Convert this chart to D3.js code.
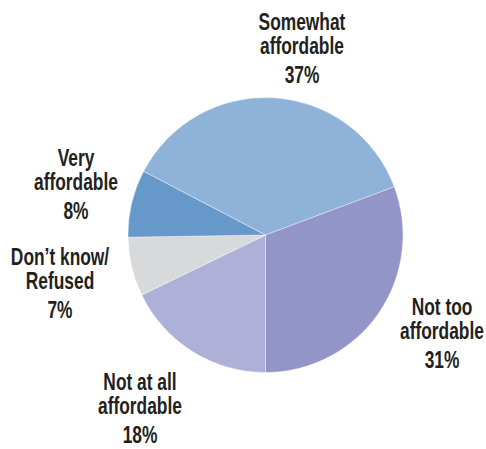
<!DOCTYPE html>
<html>
<head>
<meta charset="utf-8">
<script src="https://cdn.jsdelivr.net/npm/d3@7"></script>
<style>
  html, body { margin: 0; padding: 0; background: #fff; }
  svg text { font-family: "Liberation Sans", Arial, sans-serif; font-weight: bold; fill: #231f20; }
</style>
</head>
<body>
<svg id="chart" width="486" height="449"></svg>
<script>
// Survey answers, clockwise from the bottom of the pie
const categories = ["Not at all affordable", "Don't know/Refused", "Very affordable", "Somewhat affordable", "Not too affordable"];
const values = [18, 7, 8, 37, 31];
const labelLines = [
  ["Not at all", "affordable"],
  ["Don\u2019t know/", "Refused"],
  ["Very", "affordable"],
  ["Somewhat", "affordable"],
  ["Not too", "affordable"]
];
const colors = ["#afb0d8", "#d8d9db", "#6699ca", "#8fb2d8", "#9395c9"];

// Label anchor: centre x and first baseline for each slice
const labelLayout = [
  { x: 140, y: 390 },
  { x: 60,  y: 265 },
  { x: 76,  y: 166 },
  { x: 302, y: 30 },
  { x: 442, y: 315 }
];
const lineGap = 24, pctGap = 29;
const fontSize = 23, condense = 0.755;

const svg = d3.select("#chart");
const cx = 265.5, cy = 235, radius = 137.5;

const pie = d3.pie().sort(null).value(d => d.value)
  .startAngle(Math.PI).endAngle(3 * Math.PI);
const arc = d3.arc().innerRadius(0).outerRadius(radius);

const data = categories.map((c, i) => ({ name: c, value: values[i], color: colors[i], lines: labelLines[i], layout: labelLayout[i] }));

const g = svg.append("g").attr("transform", `translate(${cx},${cy})`);
g.selectAll("path")
  .data(pie(data))
  .join("path")
  .attr("d", arc)
  .attr("fill", d => d.data.color)
  .attr("stroke", "#ffffff")
  .attr("stroke-width", 0.4);

// Condensed bold labels: each block is squeezed horizontally around its centre
const labels = svg.selectAll("g.label")
  .data(data)
  .join("g")
  .attr("class", "label")
  .attr("transform", d => `translate(${d.layout.x},0) scale(${condense},1)`);

labels.each(function(d) {
  const t = d3.select(this).append("text")
    .attr("text-anchor", "middle")
    .style("font-size", fontSize + "px");
  const rows = [...d.lines, d.value + "%"];
  let y = d.layout.y;
  rows.forEach((r, i) => {
    if (i > 0) y += (i === rows.length - 1 ? pctGap : lineGap);
    t.append("tspan").attr("x", 0).attr("y", y).text(r);
  });
});
</script>
</body>
</html>
